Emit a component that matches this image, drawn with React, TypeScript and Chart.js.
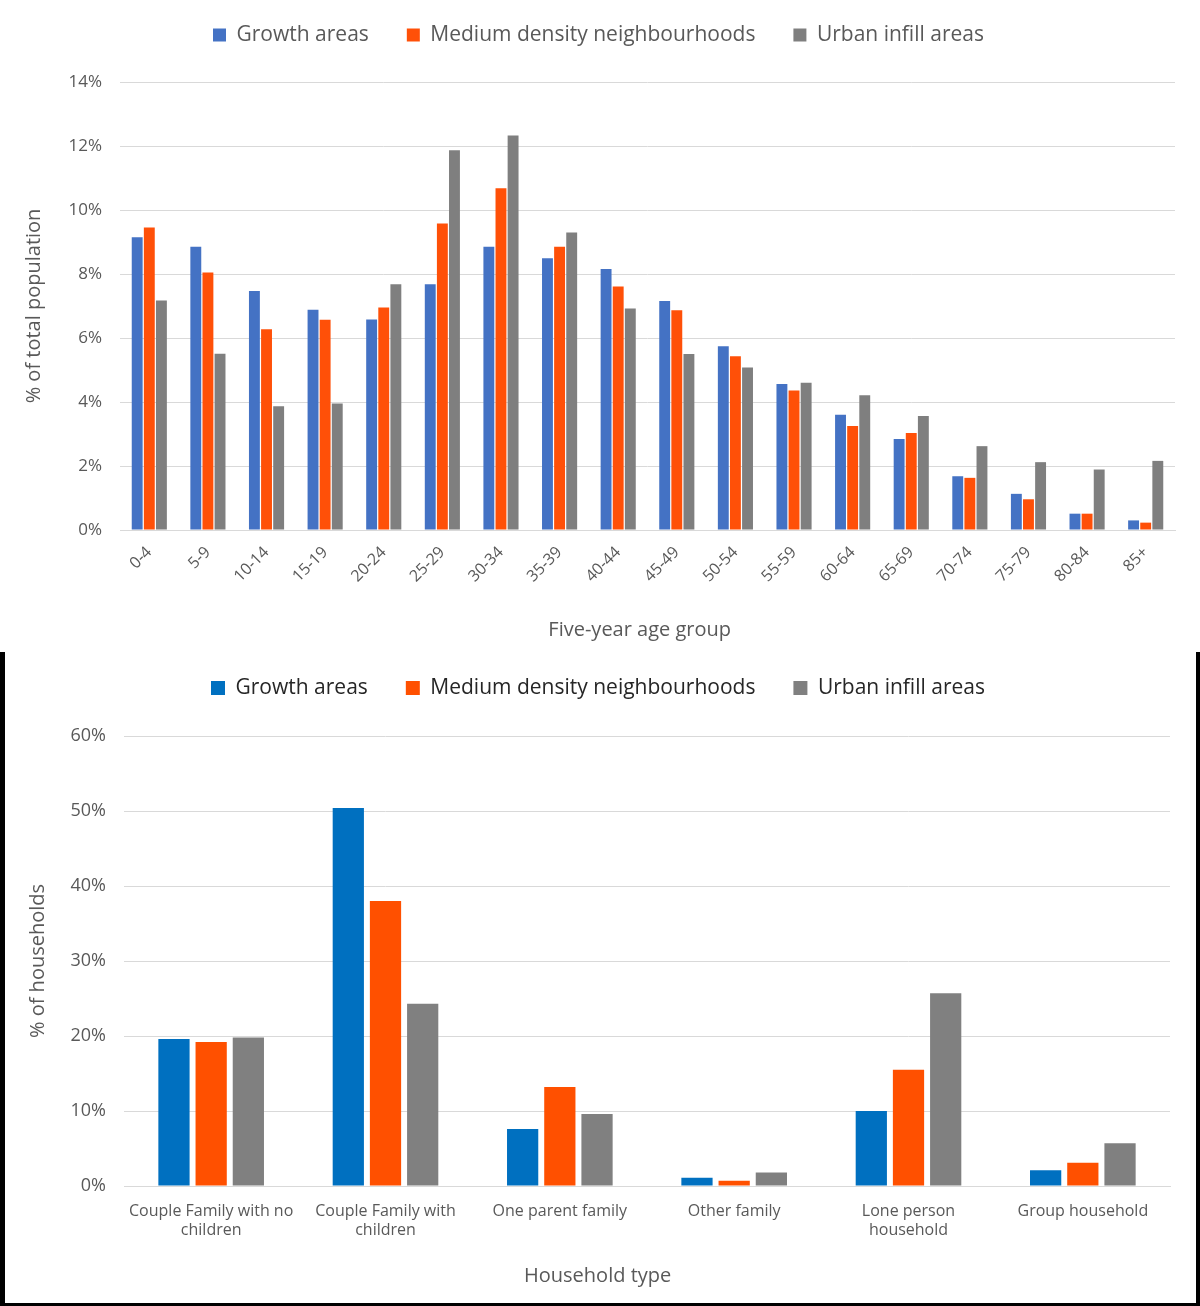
import React, { useEffect, useRef } from "react";
import { Chart, registerables } from "chart.js";

Chart.register(...registerables);

const ageGroups = ["0-4", "5-9", "10-14", "15-19", "20-24", "25-29", "30-34", "35-39", "40-44", "45-49", "50-54", "55-59", "60-64", "65-69", "70-74", "75-79", "80-84", "85+"];
const growthAge = [9.15, 8.85, 7.47, 6.88, 6.58, 7.68, 8.85, 8.49, 8.16, 7.16, 5.74, 4.56, 3.6, 2.84, 1.68, 1.13, 0.51, 0.3];
const mediumAge = [9.45, 8.05, 6.27, 6.57, 6.95, 9.58, 10.68, 8.85, 7.61, 6.87, 5.43, 4.36, 3.25, 3.03, 1.63, 0.96, 0.51, 0.23];
const urbanAge = [7.17, 5.51, 3.87, 3.95, 7.68, 11.87, 12.33, 9.3, 6.92, 5.5, 5.08, 4.6, 4.21, 3.56, 2.62, 2.12, 1.89, 2.16];

const householdTypes = [["Couple Family with no", "children"], ["Couple Family with", "children"], "One parent family", "Other family", ["Lone person", "household"], "Group household"];
const growthHH = [19.6, 50.4, 7.6, 1.1, 10.0, 2.1];
const mediumHH = [19.2, 38.0, 13.2, 0.7, 15.5, 3.1];
const urbanHH = [19.8, 24.3, 9.6, 1.8, 25.7, 5.7];

const seriesNames = ["Growth areas", "Medium density neighbourhoods", "Urban infill areas"];

const FONT = "'Open Sans', 'Noto Sans', sans-serif";
const GRID = "#d9d9d9";
const TXT = "#595959";

// adds extra space below the built-in legend so the plot starts lower
function legendSpacer(extra: number) {
  return {
    id: "legendSpacer",
    beforeLayout(chart: any) {
      const lg = chart.legend;
      if (lg && !lg._spacerPatched) {
        const orig = lg.fit.bind(lg);
        lg.fit = function () {
          orig();
          this.height += extra;
        };
        lg._spacerPatched = true;
      }
    },
  };
}

function TopChart() {
  const ref = useRef<HTMLCanvasElement>(null);
  useEffect(() => {
    const colors = ["#4472c4", "#ff5008", "#7f7f7f"];
    const chart = new Chart(ref.current!, {
      type: "bar",
      data: {
        labels: ageGroups,
        datasets: [growthAge, mediumAge, urbanAge].map((d, i) => ({
          label: seriesNames[i],
          data: d,
          backgroundColor: colors[i],
          borderWidth: 0,
          categoryPercentage: 0.62,
          barPercentage: 0.9,
        })),
      },
      plugins: [legendSpacer(26.5)],
      options: {
        animation: false,
        responsive: false,
        devicePixelRatio: 1,
        layout: { padding: { left: 22, right: 25, top: -13.5, bottom: 10 } },
        plugins: {
          tooltip: { enabled: false },
          legend: {
            position: "top",
            labels: {
              boxWidth: 13,
              boxHeight: 13,
              padding: 38,
              color: TXT,
              font: { family: FONT, size: 21 },
            },
          },
        },
        scales: {
          y: {
            min: 0,
            max: 14,
            ticks: {
              stepSize: 2,
              color: TXT,
              padding: 18,
              font: { family: FONT, size: 17 },
              callback: (v: any) => v + "%",
            },
            grid: { color: GRID, drawTicks: false },
            border: { display: false },
            title: {
              display: true,
              text: "% of total population",
              color: TXT,
              font: { family: FONT, size: 20 },
              padding: { top: 0, bottom: 0 },
            },
            afterFit: (s: any) => {
              s.width = 98;
            },
          },
          x: {
            grid: { display: false },
            border: { color: GRID },
            ticks: {
              color: TXT,
              minRotation: 45,
              maxRotation: 45,
              padding: 5,
              font: { family: FONT, size: 16 },
            },
            title: {
              display: true,
              text: "Five-year age group   ",
              color: TXT,
              font: { family: FONT, size: 20 },
              padding: { top: 0, bottom: 0 },
            },
            afterFit: (s: any) => {
              s.height = 112;
            },
          },
        },
      },
    });
    return () => chart.destroy();
  }, []);
  return <canvas ref={ref} width={1200} height={652} style={{ display: "block" }} />;
}

function BottomChart() {
  const ref = useRef<HTMLCanvasElement>(null);
  useEffect(() => {
    const colors = ["#0070c0", "#ff5000", "#808080"];
    const chart = new Chart(ref.current!, {
      type: "bar",
      data: {
        labels: householdTypes,
        datasets: [growthHH, mediumHH, urbanHH].map((d, i) => ({
          label: seriesNames[i],
          data: d,
          backgroundColor: colors[i],
          borderWidth: 0,
          categoryPercentage: 0.64,
          barPercentage: 0.84,
        })),
      },
      plugins: [legendSpacer(27.5)],
      options: {
        animation: false,
        responsive: false,
        devicePixelRatio: 1,
        layout: { padding: { left: 21, right: 26, top: -12.5, bottom: 15 } },
        plugins: {
          tooltip: { enabled: false },
          legend: {
            position: "top",
            labels: {
              boxWidth: 14,
              boxHeight: 14,
              padding: 38,
              color: "#262626",
              font: { family: FONT, size: 21 },
            },
          },
        },
        scales: {
          y: {
            min: 0,
            max: 60,
            ticks: {
              stepSize: 10,
              color: TXT,
              padding: 18,
              font: { family: FONT, size: 18 },
              callback: (v: any) => v + "%",
            },
            grid: { color: GRID, drawTicks: false },
            border: { display: false },
            title: {
              display: true,
              text: "% of households",
              color: TXT,
              font: { family: FONT, size: 20 },
              padding: { top: 0, bottom: 0 },
            },
            afterFit: (s: any) => {
              s.width = 98;
            },
          },
          x: {
            grid: { display: false },
            border: { color: GRID },
            ticks: {
              color: TXT,
              maxRotation: 0,
              minRotation: 0,
              padding: 8,
              font: { family: FONT, size: 16 },
            },
            title: {
              display: true,
              text: "Household type" + " ".repeat(19),
              color: TXT,
              font: { family: FONT, size: 20 },
              padding: { top: 0, bottom: 0 },
            },
            afterFit: (s: any) => {
              s.height = 102;
            },
          },
        },
      },
    });
    return () => chart.destroy();
  }, []);
  return <canvas ref={ref} width={1191} height={651} style={{ display: "block" }} />;
}

export default function App() {
  useEffect(() => {
    document.body.style.margin = "0";
    document.body.style.background = "#ffffff";
  }, []);
  return (
    <div style={{ width: 1200, height: 1306, background: "#ffffff", position: "relative" }}>
      <TopChart />
      <div style={{ position: "absolute", left: 0, top: 652, width: 1200, height: 654, background: "#000000" }}>
        <div style={{ position: "absolute", left: 5, top: 0, width: 1191, height: 651, background: "#ffffff" }}>
          <BottomChart />
        </div>
      </div>
    </div>
  );
}
